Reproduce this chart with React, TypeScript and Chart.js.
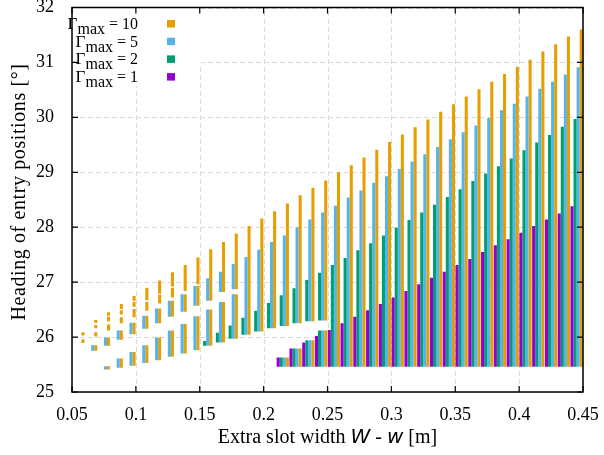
import React, { useEffect, useRef } from 'react';
import { Chart, registerables } from 'chart.js';

Chart.register(...registerables);

// Extra slot width W - w [m] (centre of each group of bars)
const slotWidths = [
  0.055, 0.065, 0.075, 0.085, 0.095, 0.105, 0.115, 0.125, 0.135, 0.145,
  0.155, 0.165, 0.175, 0.185, 0.195, 0.205, 0.215, 0.225, 0.235, 0.245,
  0.255, 0.265, 0.275, 0.285, 0.295, 0.305, 0.315, 0.325, 0.335, 0.345,
  0.355, 0.365, 0.375, 0.385, 0.395, 0.405, 0.415, 0.425, 0.435, 0.445,
];

const xTickValues = [0.05, 0.1, 0.15, 0.2, 0.25, 0.3, 0.35, 0.4, 0.45];
const xTickLabels = ['0.05', '0.1', '0.15', '0.2', '0.25', '0.3', '0.35', '0.4', '0.45'];
const yTickValues = [25, 26, 27, 28, 29, 30, 31, 32];
const yTickLabels = ['25', '26', '27', '28', '29', '30', '31', '32'];

// Γmax values, in bar order (left to right inside each group)
const gammaMax = ['1', '2', '5', '10'];
const seriesColors = ['#9400D3', '#009E73', '#56B4E9', '#E69F00'];

// Heading ranges [low, high] in degrees for every slot width
const gamma1Ranges: number[][][] = [
  [], [], [], [], [], [], [], [], [], [],
  [], [], [], [], [], [],
  [[25.46, 25.63]], [[25.46, 25.79]], [[25.46, 25.90]], [[25.46, 26.02]],
  [[25.46, 26.13]], [[25.46, 26.25]], [[25.46, 26.37]], [[25.46, 26.49]], [[25.46, 26.60]],
  [[25.46, 26.72]], [[25.46, 26.84]], [[25.46, 26.96]], [[25.46, 27.08]], [[25.46, 27.19]],
  [[25.46, 27.31]], [[25.46, 27.42]], [[25.46, 27.55]], [[25.46, 27.67]], [[25.46, 27.78]],
  [[25.46, 27.90]], [[25.46, 28.02]], [[25.46, 28.14]], [[25.46, 28.25]], [[25.46, 28.38]],
];

const gamma2Ranges: number[][][] = [
  [], [], [], [], [], [], [], [], [], [],
  [[25.84, 25.93]], [[25.90, 26.08]], [[25.97, 26.21]], [[26.04, 26.35]], [[26.10, 26.48]],
  [[26.16, 26.62]],
  [[25.46, 25.63], [26.20, 26.76]], [[25.46, 25.79], [26.25, 26.89]],
  [[25.46, 25.94], [26.29, 27.04]], [[25.46, 26.12], [26.30, 27.17]],
  [[25.46, 27.31]], [[25.46, 27.44]], [[25.46, 27.58]], [[25.46, 27.71]], [[25.46, 27.85]],
  [[25.46, 27.99]], [[25.46, 28.13]], [[25.46, 28.27]], [[25.46, 28.41]], [[25.46, 28.55]],
  [[25.46, 28.69]], [[25.46, 28.84]], [[25.46, 28.98]], [[25.46, 29.11]], [[25.46, 29.25]],
  [[25.46, 29.40]], [[25.46, 29.54]], [[25.46, 29.68]], [[25.46, 29.83]], [[25.46, 29.97]],
];

const gamma5Ranges: number[][][] = [
  [],
  [[25.75, 25.85]],
  [[25.41, 25.47], [25.84, 25.99]],
  [[25.44, 25.61], [25.95, 26.12]],
  [[25.48, 25.73], [26.05, 26.26]],
  [[25.53, 25.85], [26.15, 26.39]],
  [[25.58, 25.99], [26.25, 26.52]],
  [[25.64, 26.12], [26.37, 26.66]],
  [[25.70, 26.24], [26.46, 26.78]],
  [[25.76, 26.38], [26.57, 26.93]],
  [[25.84, 26.50], [26.66, 27.07]],
  [[25.90, 26.64], [26.82, 27.19]],
  [[25.97, 26.78], [26.87, 27.33]],
  [[26.04, 27.46]], [[26.10, 27.59]], [[26.16, 27.73]],
  [[25.46, 25.63], [26.20, 27.85]], [[25.46, 25.79], [26.25, 28.00]],
  [[25.46, 25.94], [26.29, 28.14]], [[25.46, 26.12], [26.30, 28.27]],
  [[25.46, 28.39]], [[25.46, 28.54]], [[25.46, 28.67]], [[25.46, 28.81]], [[25.46, 28.93]],
  [[25.46, 29.06]], [[25.46, 29.19]], [[25.46, 29.33]], [[25.46, 29.46]], [[25.46, 29.60]],
  [[25.46, 29.73]], [[25.46, 29.85]], [[25.46, 29.99]], [[25.46, 30.13]], [[25.46, 30.25]],
  [[25.46, 30.38]], [[25.46, 30.52]], [[25.46, 30.65]], [[25.46, 30.78]], [[25.46, 30.91]],
];

const gamma10Ranges: number[][][] = [
  [[25.89, 25.96], [26.03, 26.09]],
  [[25.75, 25.85], [26.01, 26.09], [26.16, 26.22], [26.26, 26.31]],
  [[25.41, 25.47], [25.84, 25.99], [26.12, 26.23], [26.29, 26.37], [26.39, 26.45]],
  [[25.44, 25.61], [25.95, 26.12], [26.25, 26.36], [26.41, 26.49], [26.51, 26.60]],
  [[25.48, 25.73], [26.05, 26.26], [26.36, 26.51], [26.55, 26.64], [26.66, 26.75]],
  [[25.53, 25.85], [26.15, 26.39], [26.48, 26.64], [26.67, 26.90]],
  [[25.58, 25.99], [26.25, 26.52], [26.61, 26.77], [26.79, 27.03]],
  [[25.64, 26.12], [26.37, 26.66], [26.72, 26.90], [26.92, 27.18]],
  [[25.70, 26.24], [26.46, 26.78], [26.84, 27.31]],
  [[25.76, 26.38], [26.57, 26.93], [26.96, 27.45]],
  [[25.84, 26.50], [26.66, 27.60]],
  [[25.90, 26.64], [26.82, 27.73]],
  [[25.97, 26.78], [26.87, 27.88]],
  [[26.04, 28.02]], [[26.10, 28.16]], [[26.16, 28.29]],
  [[25.46, 25.63], [26.20, 28.43]], [[25.46, 25.79], [26.25, 28.58]],
  [[25.46, 25.94], [26.29, 28.72]], [[25.46, 26.12], [26.30, 28.85]],
  [[25.46, 29.00]], [[25.46, 29.13]], [[25.46, 29.27]], [[25.46, 29.41]], [[25.46, 29.55]],
  [[25.46, 29.69]], [[25.46, 29.82]], [[25.46, 29.96]], [[25.46, 30.10]], [[25.46, 30.24]],
  [[25.46, 30.38]], [[25.46, 30.51]], [[25.46, 30.65]], [[25.46, 30.79]], [[25.46, 30.92]],
  [[25.46, 31.05]], [[25.46, 31.20]], [[25.46, 31.33]], [[25.46, 31.47]], [[25.46, 31.60]],
];

const allRanges = [gamma1Ranges, gamma2Ranges, gamma5Ranges, gamma10Ranges];

const SERIF = '"Liberation Serif", "Times New Roman", serif';

const framePlugin = {
  id: 'frame',
  beforeDatasetsDraw(chart: any) {
    const { ctx, chartArea: a, scales } = chart;
    ctx.save();
    ctx.strokeStyle = '#d9d9d9';
    ctx.lineWidth = 1;
    ctx.setLineDash([5, 3]);
    for (const v of xTickValues) {
      const px = Math.round(scales.x.getPixelForValue(v)) + 0.5;
      ctx.beginPath();
      ctx.moveTo(px, a.bottom);
      ctx.lineTo(px, a.top);
      ctx.stroke();
    }
    for (const v of yTickValues) {
      const py = Math.round(scales.y.getPixelForValue(v)) + 0.5;
      ctx.beginPath();
      ctx.moveTo(a.left, py);
      ctx.lineTo(a.right, py);
      ctx.stroke();
    }
    ctx.setLineDash([]);
    // opaque key box
    ctx.fillStyle = '#ffffff';
    ctx.fillRect(a.left, a.top, 129, 56);
    ctx.fillRect(a.left, a.top, 68, 79);
    ctx.restore();
  },
  afterDatasetsDraw(chart: any) {
    const { ctx, chartArea: a, scales } = chart;
    ctx.save();
    // border
    ctx.strokeStyle = '#000';
    ctx.lineWidth = 1.5;
    ctx.strokeRect(a.left, a.top, a.right - a.left, a.bottom - a.top);
    // inward ticks on all four sides
    ctx.lineWidth = 1.2;
    const tl = 6;
    for (const v of xTickValues) {
      const px = scales.x.getPixelForValue(v);
      ctx.beginPath();
      ctx.moveTo(px, a.bottom);
      ctx.lineTo(px, a.bottom - tl);
      ctx.moveTo(px, a.top);
      ctx.lineTo(px, a.top + tl);
      ctx.stroke();
    }
    for (const v of yTickValues) {
      const py = scales.y.getPixelForValue(v);
      ctx.beginPath();
      ctx.moveTo(a.left, py);
      ctx.lineTo(a.left + tl, py);
      ctx.moveTo(a.right, py);
      ctx.lineTo(a.right - tl, py);
      ctx.stroke();
    }

    // key
    ctx.fillStyle = '#000';
    ctx.textBaseline = 'alphabetic';
    const rows = [3, 2, 1, 0];
    rows.forEach((s, r) => {
      const base = 29 + r * 17.7;
      const rightX = 138;
      ctx.font = `17px ${SERIF}`;
      const wG = ctx.measureText('Γ').width;
      ctx.font = `16px ${SERIF}`;
      const wSub = ctx.measureText('max').width;
      const rest = ' = ' + gammaMax[s];
      const wRest = ctx.measureText(rest).width;
      let x = rightX - (wG + wSub + wRest);
      ctx.textAlign = 'left';
      ctx.font = `17px ${SERIF}`;
      ctx.fillText('Γ', x, base);
      x += wG;
      ctx.font = `16px ${SERIF}`;
      ctx.fillText('max', x, base + 5);
      x += wSub;
      ctx.fillText(rest, x, base);
      ctx.fillStyle = seriesColors[s];
      ctx.fillRect(167, 20 + r * 17.7, 8, 7.5);
      ctx.fillStyle = '#000';
    });

    // x axis title with italic W and w
    const parts: [string, string][] = [
      ['Extra slot width ', `20px ${SERIF}`],
      ['W', `italic 20px "DejaVu Sans", sans-serif`],
      [' - ', `20px ${SERIF}`],
      ['w', `italic 20px "DejaVu Sans", sans-serif`],
      [' [m]', `20px ${SERIF}`],
    ];
    let total = 0;
    const widths = parts.map(([t, f]) => {
      ctx.font = f;
      const w = ctx.measureText(t).width;
      total += w;
      return w;
    });
    let tx = (a.left + a.right) / 2 - total / 2;
    ctx.textAlign = 'left';
    parts.forEach(([t, f], i) => {
      ctx.font = f;
      ctx.fillText(t, tx, 443);
      tx += widths[i];
    });

    // y axis title
    ctx.save();
    ctx.translate(25, 192);
    ctx.rotate(-Math.PI / 2);
    ctx.font = `20px ${SERIF}`;
    try { (ctx as any).letterSpacing = '0.6px'; } catch (e) { /* ignore */ }
    ctx.textAlign = 'center';
    ctx.fillText('Heading of entry positions [°]', 0, 0);
    ctx.restore();

    ctx.restore();
  },
};

export default function App() {
  const canvasRef = useRef<HTMLCanvasElement | null>(null);

  useEffect(() => {
    const canvas = canvasRef.current;
    if (!canvas) return;

    const datasets: any[] = [];
    allRanges.forEach((ranges, s) => {
      const layers = Math.max(...ranges.map((r) => r.length));
      for (let j = 0; j < layers; j++) {
        const data: any[] = [];
        slotWidths.forEach((x, i) => {
          const seg = ranges[i][j];
          if (seg) data.push({ x, y: [seg[0], seg[1]] });
        });
        datasets.push({
          label: 'Γmax=' + gammaMax[s],
          stack: 'gamma' + s,
          data,
          backgroundColor: seriesColors[s],
          borderWidth: 0,
          categoryPercentage: 0.96,
          barPercentage: 1.0,
        });
      }
    });

    const chart = new Chart(canvas, {
      type: 'bar',
      data: { datasets },
      options: {
        responsive: false,
        devicePixelRatio: 1,
        animation: false,
        layout: { padding: { left: 0, top: 7.5, right: 21, bottom: 0 } },
        plugins: {
          legend: { display: false },
          tooltip: { enabled: false },
        },
        scales: {
          x: {
            type: 'linear',
            min: 0.05,
            max: 0.45,
            stacked: true,
            offset: false,
            grid: { display: false, offset: false },
            border: { display: false },
            afterBuildTicks: (scale: any) => {
              scale.ticks = xTickValues.map((v) => ({ value: v }));
            },
            ticks: {
              autoSkip: false,
              maxRotation: 0,
              padding: 4,
              color: '#000',
              font: { family: SERIF, size: 18 },
              callback: (v: any) => {
                const idx = xTickValues.findIndex((t) => Math.abs(t - Number(v)) < 1e-6);
                return idx >= 0 ? xTickLabels[idx] : '';
              },
            },
            afterFit: (scale: any) => {
              scale.height = 63;
              scale.paddingLeft = 0;
              scale.paddingRight = 0;
            },
          },
          y: {
            type: 'linear',
            min: 25,
            max: 32,
            stacked: false,
            grid: { display: false },
            border: { display: false },
            afterBuildTicks: (scale: any) => {
              scale.ticks = yTickValues.map((v) => ({ value: v }));
            },
            ticks: {
              padding: 10,
              color: '#000',
              font: { family: SERIF, size: 18 },
              callback: (v: any) => {
                const idx = yTickValues.findIndex((t) => Math.abs(t - Number(v)) < 1e-6);
                return idx >= 0 ? yTickLabels[idx] : '';
              },
            },
            afterFit: (scale: any) => {
              scale.width = 72;
              scale.paddingTop = 0;
              scale.paddingBottom = 0;
            },
          },
        },
      },
      plugins: [framePlugin],
    } as any);

    return () => chart.destroy();
  }, []);

  return (
    <div style={{ position: 'absolute', left: 0, top: 0, width: 604, height: 455, background: '#fff' }}>
      <canvas ref={canvasRef} width={604} height={455} style={{ display: 'block' }} />
    </div>
  );
}
